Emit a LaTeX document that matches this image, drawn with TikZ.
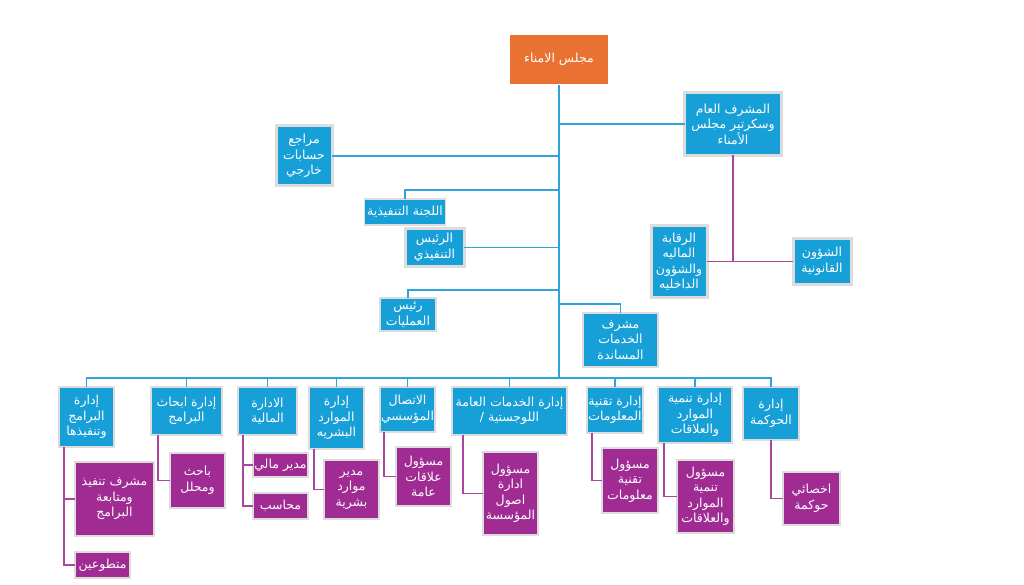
\documentclass[tikz,border=0pt]{standalone}
\usepackage{fontspec}
\newfontfamily\arabicfont[Script=Arabic]{DejaVu Sans}
\TeXXeTstate=1
\newcommand\ar[1]{\beginR #1\endR}
\definecolor{cblue}{HTML}{179FD7}
\definecolor{lblue}{HTML}{2FA4DA}
\definecolor{cpurple}{HTML}{A02B93}
\definecolor{lpurple}{HTML}{A8459C}
\definecolor{corange}{HTML}{E97132}
\definecolor{bordergray}{HTML}{DCDCDC}
\tikzset{
  box/.style={inner sep=0pt, outer sep=0pt, align=center, text=white,
    font=\arabicfont\fontsize{12.5}{15.5}\selectfont, draw=bordergray, line width=1.2pt},
  bluebox/.style={box, fill=cblue},
  thickbox/.style={box, fill=cblue, line width=3pt},
  purplebox/.style={box, fill=cpurple},
  orangebox/.style={box, fill=corange, draw=white},
  bline/.style={draw=lblue, line width=1.6pt},
  pline/.style={draw=lpurple, line width=1.6pt}
}
\begin{document}
\begin{tikzpicture}[x=1pt,y=-1pt]
\useasboundingbox (0,0) rectangle (1024,585);
\fill[white] (0,0) rectangle (1024,585);

% top part
\node[orangebox, minimum width=99pt, minimum height=51pt] (root) at (559,59.5) {\ar{مجلس الامناء}};
\node[thickbox, minimum width=97pt, minimum height=63pt] (mushrif) at (733,124) {\ar{المشرف العام}\\\ar{وسكرتير مجلس}\\\ar{الأمناء}};
\node[thickbox, minimum width=56pt, minimum height=60pt] (muraji) at (304,156) {\ar{مراجع}\\\ar{حسابات}\\\ar{خارجي}};
\node[bluebox, minimum width=81pt, minimum height=26pt] (lajna) at (405,212) {\ar{اللجنة التنفيذية}};
\node[thickbox, minimum width=59pt, minimum height=37pt] (rais) at (434.5,247.5) {\ar{الرئيس}\\\ar{التنفيذي}};
\node[bluebox, minimum width=56pt, minimum height=33pt] (amaliyat) at (408,314.5) {\ar{رئيس}\\\ar{العمليات}};
\node[bluebox, minimum width=75pt, minimum height=54pt] (musanida) at (620.5,340) {\ar{مشرف}\\\ar{الخدمات}\\\ar{المساندة}};
\node[thickbox, minimum width=56pt, minimum height=71pt] (raqaba) at (679,261.5) {\ar{الرقابة}\\\ar{الماليه}\\\ar{والشؤون}\\\ar{الداخليه}};
\node[thickbox, minimum width=58pt, minimum height=46pt] (qanuniya) at (822,261.5) {\ar{الشؤون}\\\ar{القانونية}};

% bottom blue row
\node[bluebox, minimum width=55pt, minimum height=60pt] (b1) at (86.5,417) {\ar{إدارة}\\\ar{البرامج}\\\ar{وتنفيذها}};
\node[bluebox, minimum width=71pt, minimum height=48pt] (b2) at (186.5,411) {\ar{إدارة ابحاث}\\\ar{البرامج}};
\node[bluebox, minimum width=59pt, minimum height=48pt] (b3) at (267.5,411) {\ar{الادارة}\\\ar{المالية}};
\node[bluebox, minimum width=55pt, minimum height=62pt] (b4) at (336.5,418) {\ar{إدارة}\\\ar{الموارد}\\\ar{البشريه}};
\node[bluebox, minimum width=55pt, minimum height=45pt] (b5) at (407.5,409.5) {\ar{الاتصال}\\\ar{المؤسسي}};
\node[bluebox, minimum width=115pt, minimum height=48pt] (b6) at (509.5,411) {\ar{إدارة الخدمات العامة}\\\ar{اللوجستية /}};
\node[bluebox, minimum width=56pt, minimum height=46pt] (b7) at (615,410) {\ar{إدارة تقنية}\\\ar{المعلومات}};
\node[bluebox, minimum width=74pt, minimum height=56pt] (b8) at (695,415) {\ar{إدارة تنمية}\\\ar{الموارد}\\\ar{والعلاقات}};
\node[bluebox, minimum width=56pt, minimum height=53pt] (b9) at (771,413.5) {\ar{إدارة}\\\ar{الحوكمة}};

% purple boxes
\node[purplebox, minimum width=79pt, minimum height=74pt] (p1) at (114.5,499) {\ar{مشرف تنفيذ}\\\ar{ومتابعة}\\\ar{البرامج}};
\node[purplebox, minimum width=55pt, minimum height=26pt] (p2) at (102.5,565) {\ar{متطوعين}};
\node[purplebox, minimum width=55pt, minimum height=55pt] (p3) at (197.5,480.5) {\ar{باحث}\\\ar{ومحلل}};
\node[purplebox, minimum width=55pt, minimum height=24pt] (p4) at (280.5,465) {\ar{مدير مالي}};
\node[purplebox, minimum width=55pt, minimum height=26pt] (p5) at (280.5,506) {\ar{محاسب}};
\node[purplebox, minimum width=55pt, minimum height=59pt] (p6) at (351.5,489.5) {\ar{مدير}\\\ar{موارد}\\\ar{بشرية}};
\node[purplebox, minimum width=55pt, minimum height=59pt] (p7) at (423.5,476.5) {\ar{مسؤول}\\\ar{علاقات}\\\ar{عامة}};
\node[purplebox, minimum width=55pt, minimum height=83pt] (p8) at (510.5,493.5) {\ar{مسؤول}\\\ar{ادارة}\\\ar{اصول}\\\ar{المؤسسة}};
\node[purplebox, minimum width=56pt, minimum height=65pt] (p9) at (630,480.5) {\ar{مسؤول}\\\ar{تقنية}\\\ar{معلومات}};
\node[purplebox, minimum width=57pt, minimum height=73pt] (p10) at (705.5,496.5) {\ar{مسؤول}\\\ar{تنمية}\\\ar{الموارد}\\\ar{والعلاقات}};
\node[purplebox, minimum width=57pt, minimum height=53pt] (p11) at (811.5,498.5) {\ar{اخصائي}\\\ar{حوكمة}};

% trunk coordinates
\coordinate (bar) at (559,378);
\coordinate (t190) at (559,190);
\coordinate (t290) at (559,290);
\coordinate (t304) at (559,304);

% blue connectors
\draw[bline] (root.south) -- (bar);
\draw[bline] (mushrif.west) -- (mushrif.west -| bar);
\draw[bline] (muraji.east) -- (muraji.east -| bar);
\draw[bline] (lajna.north) |- (t190);
\draw[bline] (rais.east) -- (rais.east -| bar);
\draw[bline] (amaliyat.north) |- (t290);
\draw[bline] (musanida.north) |- (t304);
\foreach \b in {b1,b2,b3,b4,b5,b6,b7,b8,b9}{
  \draw[bline] (\b.north) |- (bar);
}

% purple connectors
\draw[pline] (mushrif.south) -- (mushrif.south |- raqaba.east);
\draw[pline] (raqaba.east) -- (qanuniya.west);
\draw[pline] ([xshift=5pt]b1.south west) |- (p1.west);
\draw[pline] ([xshift=5pt]b1.south west) |- (p2.west);
\draw[pline] ([xshift=7pt]b2.south west) |- (p3.west);
\draw[pline] ([xshift=5pt]b3.south west) |- (p4.west);
\draw[pline] ([xshift=5pt]b3.south west) |- (p5.west);
\draw[pline] ([xshift=5pt]b4.south west) |- (p6.west);
\draw[pline] ([xshift=4pt]b5.south west) |- (p7.west);
\draw[pline] ([xshift=11pt]b6.south west) |- (p8.west);
\draw[pline] ([xshift=5pt]b7.south west) |- (p9.west);
\draw[pline] ([xshift=6pt]b8.south west) |- (p10.west);
\draw[pline] (b9.south) |- (p11.west);
\end{tikzpicture}
\end{document}
